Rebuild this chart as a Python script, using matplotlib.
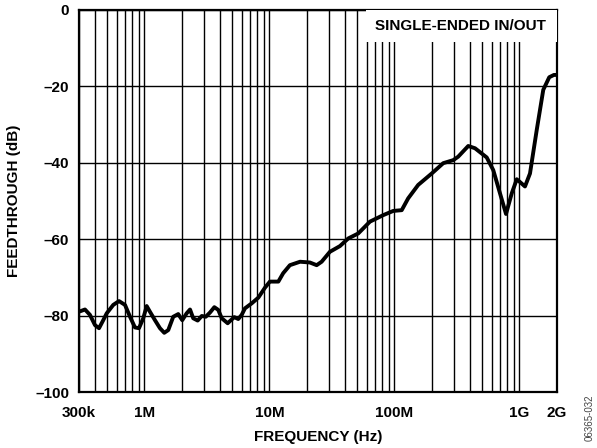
import matplotlib
matplotlib.use("Agg")
import matplotlib.pyplot as plt
from matplotlib.patches import Rectangle
from matplotlib.ticker import LogLocator, NullFormatter

## Curve (frequency in Hz, feedthrough in dB)
freq = [305e3, 335e3, 367e3, 403e3, 434e3, 469e3, 500e3, 564e3, 627e3, 700e3,
        768e3, 841e3, 906e3, 980e3, 1.044e6, 1.109e6, 1.216e6, 1.333e6, 1.443e6,
        1.553e6, 1.703e6, 1.867e6, 2.01e6, 2.18e6, 2.32e6, 2.46e6, 2.67e6,
        2.88e6, 3.10e6, 3.35e6, 3.63e6, 3.90e6, 4.16e6, 4.64e6, 4.93e6, 5.24e6,
        5.64e6, 6.01e6, 6.38e6, 7.22e6, 8.16e6, 9.22e6, 10.1e6, 11.8e6, 12.9e6,
        14.6e6, 17.6e6, 21.1e6, 23.9e6, 26.2e6, 30.5e6, 36.7e6, 42.8e6, 51.4e6,
        63.8e6, 81.5e6, 98e6, 114.5e6, 129e6, 155e6, 199e6, 246e6, 296e6,
        324e6, 390e6, 442e6, 548e6, 618e6, 700e6, 782e6, 869e6, 953e6,
        1.109e9, 1.216e9, 1.377e9, 1.553e9, 1.734e9, 1.89e9, 2.0e9]
feedthrough = [-78.9, -78.4, -79.8, -82.5, -83.3, -81.2, -79.4, -77.2, -76.2, -77.2,
               -80.3, -83.1, -83.3, -80.7, -77.5, -79.0, -81.2, -83.3, -84.5,
               -83.8, -80.3, -79.6, -81.2, -79.4, -78.4, -80.7, -81.3,
               -80.1, -80.3, -79.2, -77.8, -78.5, -80.7, -82.0, -81.2, -80.4,
               -80.9, -79.8, -78.1, -76.8, -75.3, -72.7, -71.1, -71.1, -68.9,
               -66.8, -65.9, -66.1, -66.8, -65.9, -63.3, -61.8, -59.8, -58.5,
               -55.4, -53.7, -52.6, -52.4, -49.3, -45.8, -42.8, -40.1, -39.3,
               -38.4, -35.6, -36.2, -38.6, -41.9, -48.0, -53.4, -48.0, -44.3,
               -46.2, -42.8, -31.4, -20.9, -17.6, -17.0, -17.0]

xticks = [3e5, 1e6, 1e7, 1e8, 1e9, 2e9]
xticklabels = ["300k", "1M", "10M", "100M", "1G", "2G"]
yticks = [0, -20, -40, -60, -80, -100]
yticklabels = ["0", "–20", "–40", "–60", "–80", "–100"]

plt.rcParams['font.family'] = ['Liberation Sans', 'DejaVu Sans']

fig = plt.figure(figsize=(5.97, 4.48), dpi=100)
ax = fig.add_axes([0.1323, 0.125, 0.8007, 0.8527])

ax.set_xscale('log')
ax.set_xlim(3e5, 2e9)
ax.set_ylim(-100, 0)

# log grid: major and 2..9 minor lines
ax.xaxis.set_minor_locator(LogLocator(base=10, subs=range(2, 10), numticks=20))
ax.xaxis.set_minor_formatter(NullFormatter())
ax.set_xticks(xticks)
ax.set_xticklabels(xticklabels)
ax.set_yticks(yticks)
ax.set_yticklabels(yticklabels)
ax.grid(True, which='both', axis='x', color='black', linewidth=1.0)
ax.grid(True, which='major', axis='y', color='black', linewidth=1.0)
ax.tick_params(axis='x', which='both', length=0, labelsize=11, pad=10)
ax.tick_params(axis='y', which='both', length=0, labelsize=11, pad=7)
for lab in ax.get_xticklabels() + ax.get_yticklabels():
    lab.set_fontweight('bold')
for sp in ax.spines.values():
    sp.set_linewidth(1.6)

ax.plot(freq, feedthrough, color='black', linewidth=2.8, zorder=4,
        solid_joinstyle='round', solid_capstyle='round')

# label box on top of the grid
ax.add_patch(Rectangle((0.600, 0.916), 0.40, 0.084, transform=ax.transAxes,
                       facecolor='white', edgecolor='none', zorder=3))
ax.text(0.797, 0.958, "SINGLE-ENDED IN/OUT", transform=ax.transAxes,
        ha='center', va='center', fontsize=11, fontweight='bold', zorder=5)

ax.set_xlabel("FREQUENCY (Hz)", fontsize=11, fontweight='bold', labelpad=7)
ax.set_ylabel("FEEDTHROUGH (dB)", fontsize=11, fontweight='bold', labelpad=10)

fig.text(0.988, 0.068, "06365-032", rotation=90, ha='center', va='center',
         fontsize=7, color='#444444')

fig.savefig("out.png", dpi=100)
